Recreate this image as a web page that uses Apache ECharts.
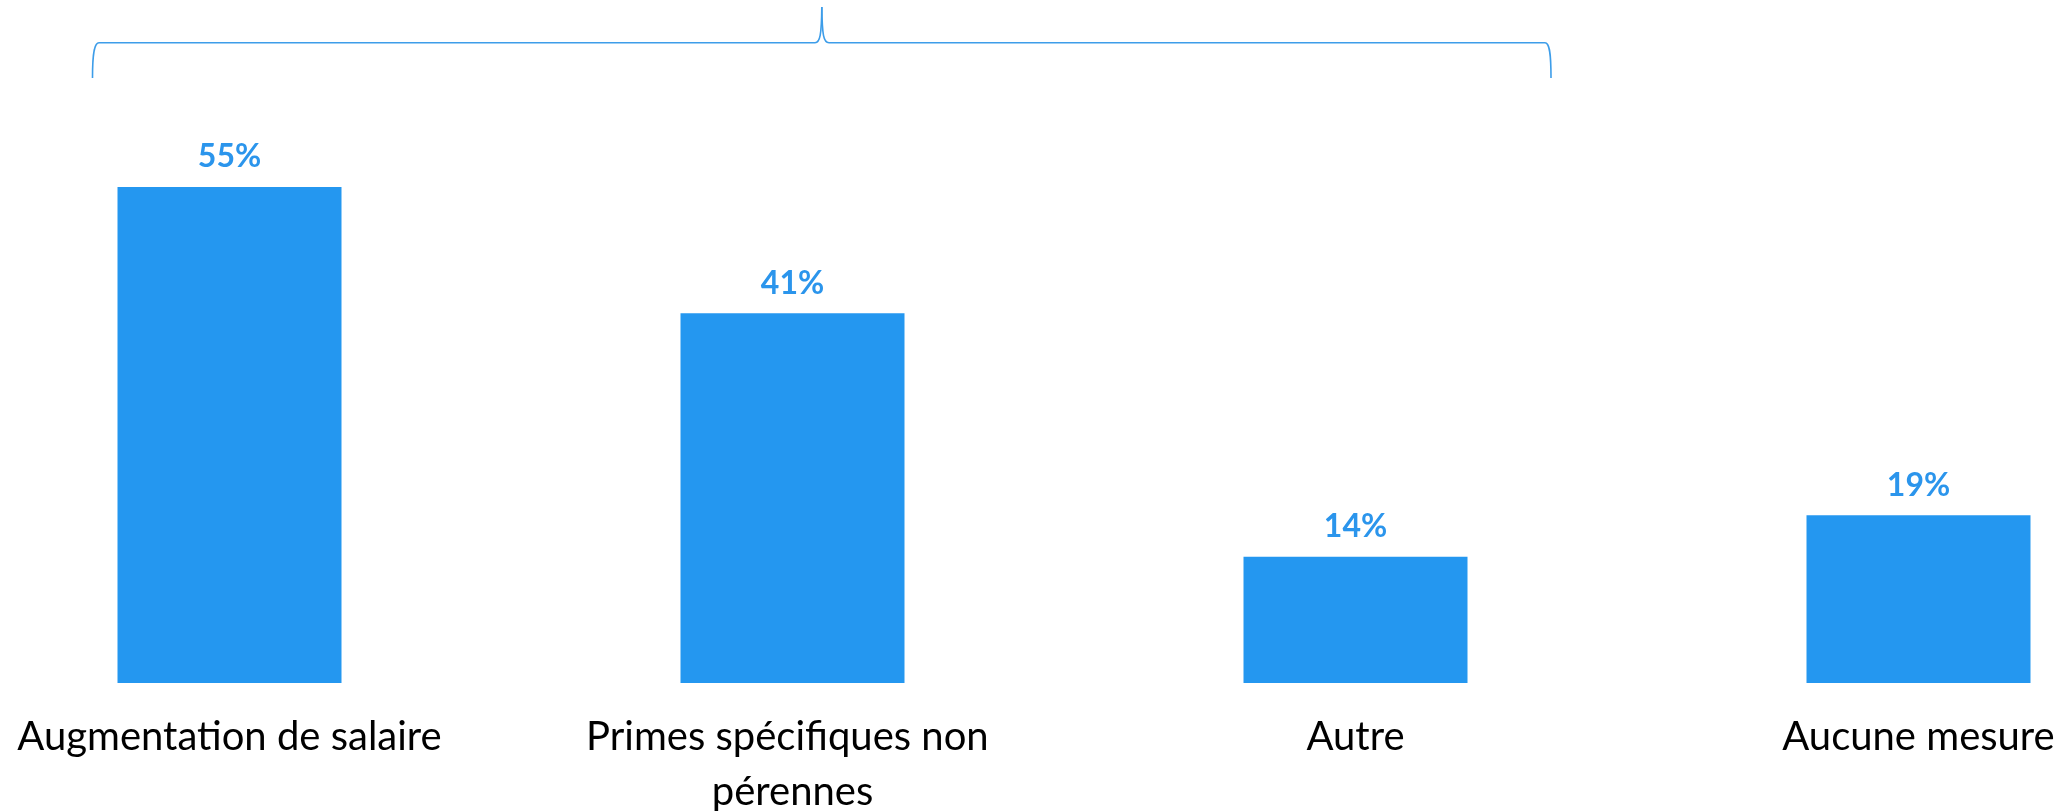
<!DOCTYPE html>
<html>
<head>
<meta charset="utf-8">
<script src="https://cdn.jsdelivr.net/npm/echarts@6/dist/echarts.min.js"></script>
<style>
html,body{margin:0;padding:0;background:#fff;overflow:hidden;}
/* le graphique deborde un peu a gauche et a droite de la fenetre */
#main{position:absolute;left:-52px;top:0;width:2252px;height:811px;}
</style>
</head>
<body>
<div id="main"></div>
<script>
// categories et valeurs
var categories=["Augmentation de salaire","Primes spécifiques non pérennes","Autre","Aucune mesure"];
var values=[55,41,14,18.6];

var barColor='#2497f0';
var braceColor='#3d9de9';

var myChart=echarts.init(document.getElementById('main'));

//accolade au-dessus des trois premieres barres (coordonnees de la fenetre)
var braceStyle={fill:null,stroke:braceColor,lineWidth:1.6};
function curve(x1,y1,cx1,cy1,cx2,cy2,x2,y2){
    return {type:'bezierCurve',shape:{x1:x1,y1:y1,cpx1:cx1,cpy1:cy1,cpx2:cx2,cpy2:cy2,x2:x2,y2:y2},style:braceStyle};
}
function seg(x1,y1,x2,y2){
    return {type:'line',shape:{x1:x1,y1:y1,x2:x2,y2:y2},style:braceStyle};
}
var brace={
    type:'group',
    x:52,
    y:0,
    children:[
        curve(92.5,78,92.5,50,95,42.7,99,42.7),
        seg(99,42.7,815,42.7),
        curve(815,42.7,820,42.7,821.5,35,821.8,7),
        curve(821.8,7,822.2,35,823.5,42.7,829,42.7),
        seg(829,42.7,1545,42.7),
        curve(1545,42.7,1549,42.7,1551,50,1551,78)
    ]
};

var option={
    animation:false,
    backgroundColor:'#ffffff',
    grid:{left:0,right:0,top:142,bottom:128,containLabel:false,outerBoundsMode:'none'},
    xAxis:{
        type:'category',
        data:categories,
        axisLine:{show:false},
        axisTick:{show:false},
        axisLabel:{
            interval:0,
            margin:27,
            color:'#000',
            fontFamily:'Lato',
            fontSize:40,
            lineHeight:55,
            width:460,
            overflow:'break'
        }
    },
    yAxis:{
        type:'value',
        min:0,
        max:60,
        show:false,
        splitLine:{show:false}
    },
    series:[{
        type:'bar',
        data:values,
        barWidth:224,
        itemStyle:{color:barColor},
        label:{
            show:true,
            position:'top',
            distance:14,
            color:'#2b95ec',
            fontFamily:'Lato',
            fontWeight:'bold',
            fontSize:32,
            lineHeight:32,
            formatter:function(p){return Math.round(p.value)+'%';}
        }
    }],
    graphic:[brace]
};

myChart.setOption(option);
</script>
</body>
</html>
